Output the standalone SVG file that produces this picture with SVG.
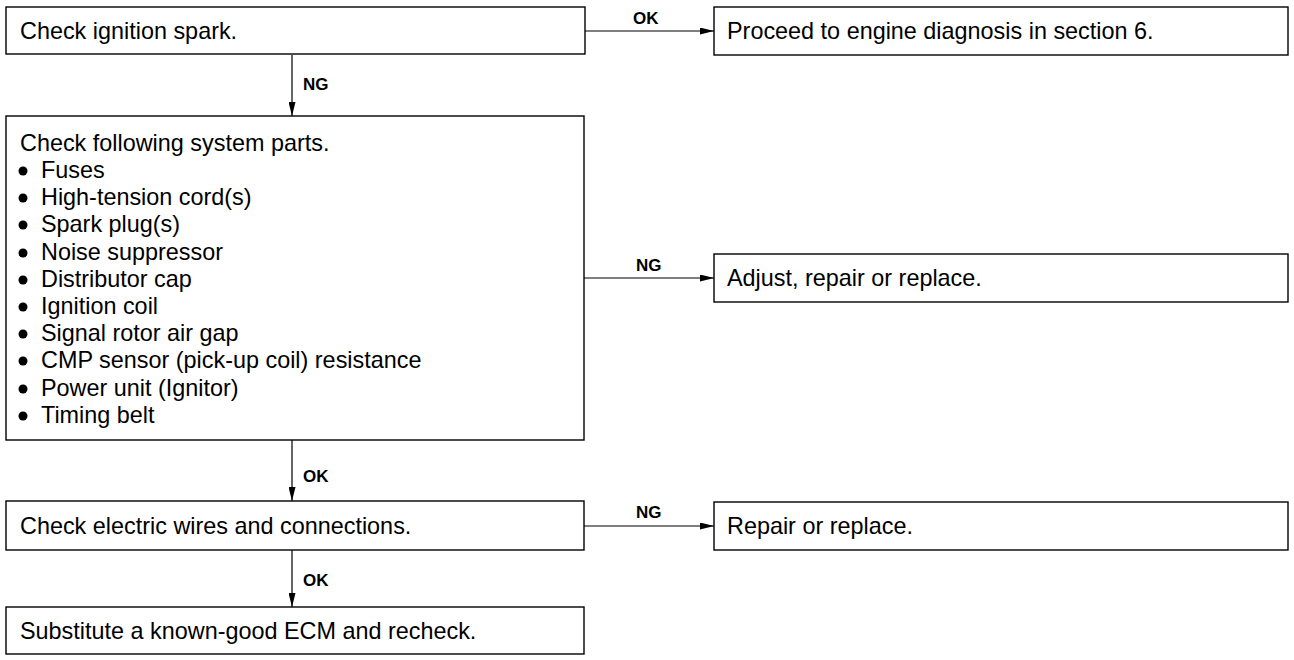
<svg xmlns="http://www.w3.org/2000/svg" width="1294" height="660" viewBox="0 0 1294 660">
  <style>
    .box { fill: #fff; stroke: #000; stroke-width: 1.4; }
    .txt { font-family: "Liberation Sans", Arial, sans-serif; font-size: 23.4px; fill: #000; }
    .lbl { font-family: "Liberation Sans", Arial, sans-serif; font-size: 17px; font-weight: bold; fill: #000; }
    .wire { stroke: #000; stroke-width: 1.2; fill: none; marker-end: url(#arrow); }
  </style>
  <defs>
    <marker id="arrow" markerWidth="14" markerHeight="7" refX="14" refY="3.5" orient="auto" markerUnits="userSpaceOnUse">
      <path d="M0,0 L14,3.5 L0,7 Z" fill="#000"/>
    </marker>
  </defs>
  <rect width="1294" height="660" fill="#fff"/>

  <!-- connectors -->
  <g id="connectors">
    <line class="wire" x1="585" y1="31" x2="714" y2="31"/>
    <text class="lbl" x="633" y="24">OK</text>
    <line class="wire" x1="292" y1="55" x2="292" y2="116"/>
    <text class="lbl" x="303" y="90">NG</text>
    <line class="wire" x1="584" y1="278" x2="714" y2="278"/>
    <text class="lbl" x="636" y="271">NG</text>
    <line class="wire" x1="292" y1="440" x2="292" y2="501"/>
    <text class="lbl" x="303" y="482">OK</text>
    <line class="wire" x1="584" y1="526" x2="714" y2="526"/>
    <text class="lbl" x="636" y="518">NG</text>
    <line class="wire" x1="292" y1="550" x2="292" y2="607"/>
    <text class="lbl" x="303" y="586">OK</text>
  </g>

  <g id="check-spark">
    <rect class="box" x="6" y="7" width="579" height="47"/>
    <text class="txt" x="20" y="39">Check ignition spark.</text>
  </g>

  <g id="engine-diagnosis">
    <rect class="box" x="714" y="7" width="574" height="48"/>
    <text class="txt" x="727" y="39">Proceed to engine diagnosis in section 6.</text>
  </g>

  <g id="system-parts">
    <rect class="box" x="6" y="116" width="578" height="324"/>
    <text class="txt" x="20" y="151">Check following system parts.</text>
    <g fill="#000">
      <circle cx="23" cy="171" r="4.5"/>
      <circle cx="23" cy="198" r="4.5"/>
      <circle cx="23" cy="225" r="4.5"/>
      <circle cx="23" cy="253" r="4.5"/>
      <circle cx="23" cy="280" r="4.5"/>
      <circle cx="23" cy="307" r="4.5"/>
      <circle cx="23" cy="334" r="4.5"/>
      <circle cx="23" cy="361" r="4.5"/>
      <circle cx="23" cy="389" r="4.5"/>
      <circle cx="23" cy="416" r="4.5"/>
    </g>
    <text class="txt" x="41" y="178">Fuses</text>
    <text class="txt" x="41" y="205">High-tension cord(s)</text>
    <text class="txt" x="41" y="232">Spark plug(s)</text>
    <text class="txt" x="41" y="260">Noise suppressor</text>
    <text class="txt" x="41" y="287">Distributor cap</text>
    <text class="txt" x="41" y="314">Ignition coil</text>
    <text class="txt" x="41" y="341">Signal rotor air gap</text>
    <text class="txt" x="41" y="368">CMP sensor (pick-up coil) resistance</text>
    <text class="txt" x="41" y="396">Power unit (Ignitor)</text>
    <text class="txt" x="41" y="423">Timing belt</text>
  </g>

  <g id="adjust-repair">
    <rect class="box" x="714" y="254" width="574" height="48"/>
    <text class="txt" x="727" y="286">Adjust, repair or replace.</text>
  </g>

  <g id="check-wires">
    <rect class="box" x="6" y="501" width="578" height="49"/>
    <text class="txt" x="20" y="534">Check electric wires and connections.</text>
  </g>

  <g id="repair-replace">
    <rect class="box" x="714" y="502" width="574" height="48"/>
    <text class="txt" x="727" y="534">Repair or replace.</text>
  </g>

  <g id="substitute-ecm">
    <rect class="box" x="6" y="607" width="578" height="47"/>
    <text class="txt" x="20" y="639">Substitute a known-good ECM and recheck.</text>
  </g>
</svg>
